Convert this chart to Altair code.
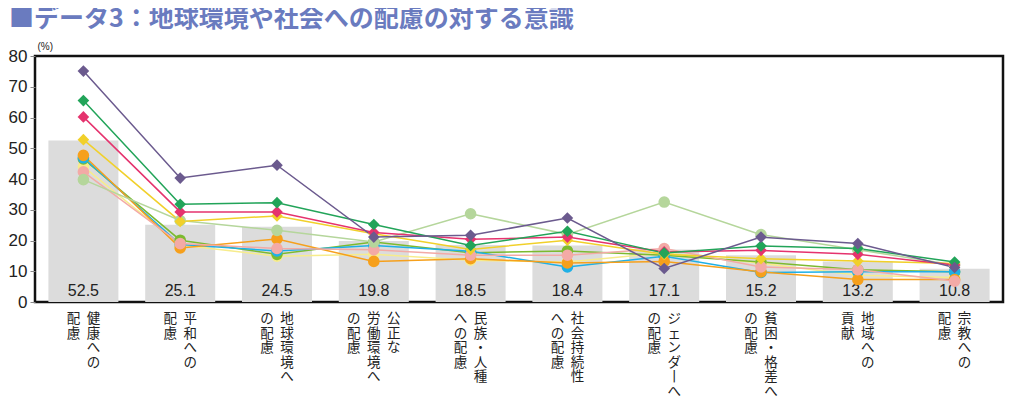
import altair as alt
import pandas as pd

title_text = "■データ3：地球環境や社会への配慮の対する意識"

categories = ["健康への配慮", "平和への配慮", "地球環境への配慮", "公正な労働環境への配慮",
              "民族・人種への配慮", "社会持続性への配慮", "ジェンダーへの配慮",
              "貧困・格差への配慮", "地域への貢献", "宗教への配慮"]
# vertical label columns, right-most column first
label_columns = [["健康への", "配慮"], ["平和への", "配慮"], ["地球環境へ", "の配慮"],
                 ["公正な", "労働環境へ", "の配慮"], ["民族・人種", "への配慮"],
                 ["社会持続性", "への配慮"], ["ジェンダ丨へ", "の配慮"],
                 ["貧困・格差へ", "の配慮"], ["地域への", "貢献"], ["宗教への", "配慮"]]
totals = [52.5, 25.1, 24.5, 19.8, 18.5, 18.4, 17.1, 15.2, 13.2, 10.8]
y_ticks = [0, 10, 20, 30, 40, 50, 60, 70, 80]

series_names = ["系列A", "系列B", "系列C", "系列D", "系列E",
                "系列F", "系列G", "系列H", "系列I", "系列J"]
series_colors = ["#6b5a8e", "#22a459", "#e5336e", "#f1d02a", "#b5d69b",
                 "#f3aaa6", "#f6a01c", "#1fb0e6", "#7cba2f", "#f7ec8c"]
series_shapes = ["diamond", "diamond", "diamond", "diamond", "circle",
                 "circle", "circle", "circle", "circle", "circle"]

vals_A = [75.1, 40.3, 44.5, 21.1, 21.7, 27.3, 10.9, 21.1, 19.0, 11.2]
vals_B = [65.5, 31.8, 32.3, 25.2, 18.4, 23.0, 15.9, 18.2, 17.4, 13.0]
vals_C = [60.2, 29.3, 29.3, 22.6, 20.4, 21.1, 16.3, 16.8, 15.5, 12.0]
vals_D = [52.8, 26.2, 28.0, 22.2, 17.1, 20.1, 15.5, 14.1, 13.3, 12.5]
vals_E = [39.8, 26.5, 23.3, 19.5, 28.7, 22.0, 32.5, 21.9, 17.0, 12.0]
vals_F = [42.3, 19.0, 17.4, 17.0, 15.2, 15.2, 17.4, 11.4, 10.5, 6.8]
vals_G = [47.7, 17.6, 20.5, 13.2, 14.1, 12.7, 13.2, 9.8, 7.3, 7.3]
vals_H = [46.9, 18.7, 16.6, 18.4, 16.5, 11.4, 14.9, 9.6, 9.8, 9.8]
vals_I = [46.5, 20.1, 15.5, 19.5, 16.0, 16.6, 15.2, 13.0, 10.5, 9.8]
vals_J = [44.0, 18.5, 14.9, 15.5, 13.6, 13.0, 16.0, 12.6, 8.7, 8.0]
series_values = [vals_A, vals_B, vals_C, vals_D, vals_E,
                 vals_F, vals_G, vals_H, vals_I, vals_J]

W, H = 968, 246

bar_df = pd.DataFrame({"cat": categories, "total": totals})

rows = []
for order, (name, vals) in enumerate(reversed(list(zip(series_names, series_values)))):
    for c, v in zip(categories, vals):
        rows.append({"cat": c, "series": name, "value": v, "ord": order})
line_df = pd.DataFrame(rows)

lab_rows = []
for c, cols in zip(categories, label_columns):
    n = len(cols)
    for i, t in enumerate(cols):
        lab_rows.append({"cat": c, "txt": "\n".join(list(t)), "key": f"{n}_{i}"})
lab_df = pd.DataFrame(lab_rows)

xenc = alt.X("cat:N", sort=categories,
             scale=alt.Scale(domain=categories, paddingInner=0.0, paddingOuter=0.0), axis=None)
yscale = alt.Scale(domain=[0, 80], nice=False)
yaxis = alt.Axis(values=y_ticks, tickCount=9, grid=False, domain=False,
                 labelOverlap=False, labelFlush=False,
                 tickSize=5, tickColor="#888888", tickWidth=1,
                 labelFontSize=17, labelFont="Liberation Sans", labelColor="#222222",
                 labelPadding=3, title="(%)", titleAngle=0, titleX=2, titleY=-5,
                 titleAlign="left", titleBaseline="bottom", titleFontSize=10,
                 titleFontWeight="normal", titleFont="Liberation Sans",
                 titleColor="#222222")

bars = alt.Chart(bar_df).mark_bar(color="#dcdcdc", size=70).encode(
    x=xenc,
    y=alt.Y("total:Q", scale=yscale, axis=yaxis),
)

bar_text = alt.Chart(bar_df).mark_text(
    baseline="bottom", dy=-3, fontSize=16, font="Liberation Sans", color="#222222"
).encode(x=xenc, y=alt.YDatum(0), text=alt.Text("total:Q", format=".1f"))

color_scale = alt.Scale(domain=series_names, range=series_colors)
shape_scale = alt.Scale(domain=series_names, range=series_shapes)

lines = alt.Chart(line_df).mark_line(strokeWidth=1.5).encode(
    x=xenc,
    y=alt.Y("value:Q", scale=yscale, axis=yaxis),
    color=alt.Color("series:N", scale=color_scale, legend=None),
    detail="series:N",
    order=alt.Order("ord:Q"),
)

points = alt.Chart(line_df).mark_point(filled=True, size=135, opacity=1, strokeWidth=0).encode(
    x=xenc,
    y=alt.Y("value:Q", scale=yscale, axis=yaxis),
    color=alt.Color("series:N", scale=color_scale, legend=None),
    shape=alt.Shape("series:N", scale=shape_scale, legend=None),
    order=alt.Order("ord:Q"),
)

label_layers = []
offsets = {"2_0": 10, "2_1": -10, "3_0": 20, "3_1": 0, "3_2": -20}
for key, dx in offsets.items():
    label_layers.append(
        alt.Chart(lab_df).transform_filter(alt.datum.key == key).mark_text(
            baseline="top", align="center", dx=dx, fontSize=13.5, lineHeight=14.5,
            font="Noto Sans CJK JP", color="#222222", lineBreak="\n"
        ).encode(x=xenc, y=alt.value(H + 10), text="txt:N")
    )

title_df = pd.DataFrame({"t": [title_text]})
title = alt.Chart(title_df).mark_text(
    align="left", baseline="middle", fontSize=25, fontWeight="bold",
    font="Noto Sans CJK JP", color="#6a7bbf"
).encode(x=alt.value(-26), y=alt.value(-37), text="t:N")

chart = alt.layer(bars, bar_text, lines, points, *label_layers, title).properties(
    width=W, height=H,
    background="white",
    autosize=alt.AutoSizeParams(type="none"),
    padding={"left": 27, "top": 48, "right": 3, "bottom": 100},
).configure_view(stroke="#111111", strokeWidth=2.5)

chart.save("out.html", embed_options={"renderer": "svg", "actions": False})
